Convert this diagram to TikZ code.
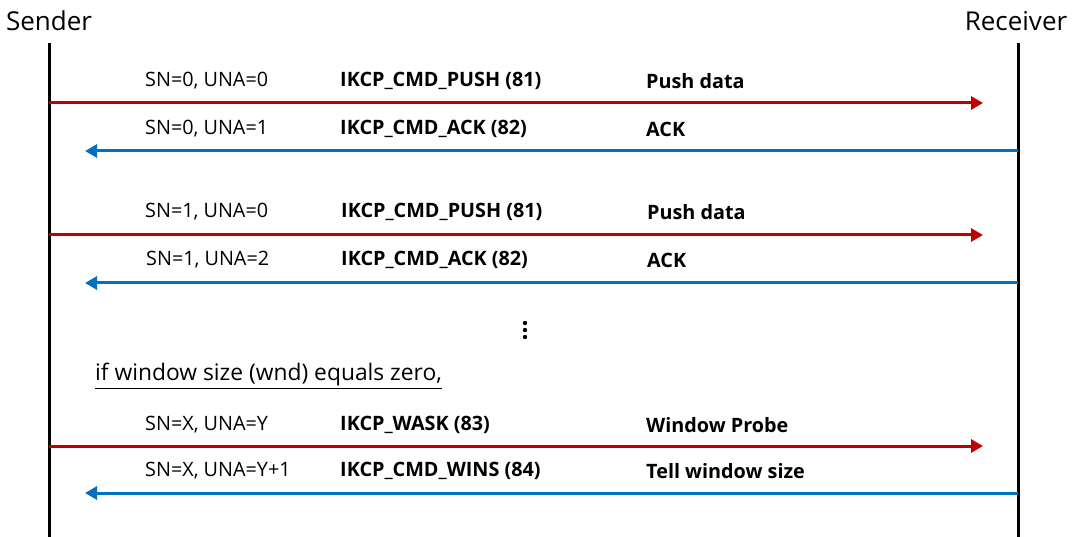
\documentclass[tikz,border=0pt]{standalone}
\usepackage{fontspec}
\setmainfont{Open Sans}
\usepackage{xcolor}
\usetikzlibrary{arrows.meta, positioning, calc}

\definecolor{pushred}{HTML}{C00000}
\definecolor{ackblue}{HTML}{0070C0}

\tikzset{
  lifeline/.style={line width=3pt, black},
  push/.style={line width=3pt, pushred, -{Triangle[length=12pt,width=13pt]}},
  ack/.style={line width=3pt, ackblue, -{Triangle[length=12pt,width=13pt]}},
  role/.style={font=\fontsize{26}{30}\selectfont, inner sep=0pt},
  lbl/.style={font=\fontsize{19.8}{23}\selectfont, anchor=west, inner sep=0pt},
  cmd/.style={lbl, font=\fontsize{19.8}{23}\selectfont\bfseries},
  dot/.style={fill=black, draw=none}
}

\begin{document}
\begin{tikzpicture}[x=1pt, y=-1pt]
          \useasboundingbox (0,0) rectangle (1074,537);

          \node[role] (sender) at (49,21) {Sender};
          \node[role] (receiver) at (1016,21) {Receiver};

          \coordinate (S0) at (49,43);
          \coordinate (S1) at (49,537);
          \coordinate (R0) at (1018,43);
          \coordinate (R1) at (1018,537);
          \draw[lifeline] (S0) -- (S1);
          \draw[lifeline] (R0) -- (R1);

          % first segment
          \coordinate (pa) at (49,103);
          \coordinate (pb) at (983,103);
          \coordinate (aa) at (1018,151);
          \coordinate (ab) at (85,151);
          \draw[push] (pa) -- (pb);
          \draw[ack] (aa) -- (ab);
          \node[lbl] (sn1) at (145,81) {SN=0, UNA=0};
          \node[cmd] (cmd1) at (340,81) {IKCP\_CMD\_PUSH (81)};
          \node[cmd] (txt1) at (646,81) {Push data};
          \node[lbl] (sn2) at (145,129) {SN=0, UNA=1};
          \node[cmd] (cmd2) at (340,129) {IKCP\_CMD\_ACK (82)};
          \node[cmd] (txt2) at (646,129) {ACK};

          % second segment
          \coordinate (pc) at (49,235);
          \coordinate (pd) at (983,235);
          \coordinate (ac) at (1018,283);
          \coordinate (ad) at (85,283);
          \draw[push] (pc) -- (pd);
          \draw[ack] (ac) -- (ad);
          \node[lbl] (sn3) at (145,212) {SN=1, UNA=0};
          \node[cmd] (cmd3) at (341,212) {IKCP\_CMD\_PUSH (81)};
          \node[cmd] (txt3) at (647,212) {Push data};
          \node[lbl] (sn4) at (146,260) {SN=1, UNA=2};
          \node[cmd] (cmd4) at (341,260) {IKCP\_CMD\_ACK (82)};
          \node[cmd] (txt4) at (647,260) {ACK};

          % dots
          \fill[dot] (525,323) circle (2.2pt);
          \fill[dot] (525,330) circle (2.2pt);
          \fill[dot] (525,337) circle (2.2pt);
          \node[lbl, font=\fontsize{22.8}{26}\selectfont] (cond) at (95,376) {\underline{if window size (wnd) equals zero,}};

          % window probe
          \coordinate (pe) at (49,446);
          \coordinate (pf) at (983,446);
          \coordinate (ae) at (1018,493);
          \coordinate (af) at (85,493);
          \draw[push] (pe) -- (pf);
          \draw[ack] (ae) -- (af);
          \node[lbl] (sn5) at (145,425) {SN=X, UNA=Y};
          \node[cmd] (cmd5) at (340,425) {IKCP\_WASK (83)};
          \node[cmd] (txt5) at (646,425) {Window Probe};
          \node[lbl] (sn6) at (145,471) {SN=X, UNA=Y+1};
          \node[cmd] (cmd6) at (340,471) {IKCP\_CMD\_WINS (84)};
          \node[cmd] (txt6) at (646,471) {Tell window size};
        \end{tikzpicture}
\end{document}
